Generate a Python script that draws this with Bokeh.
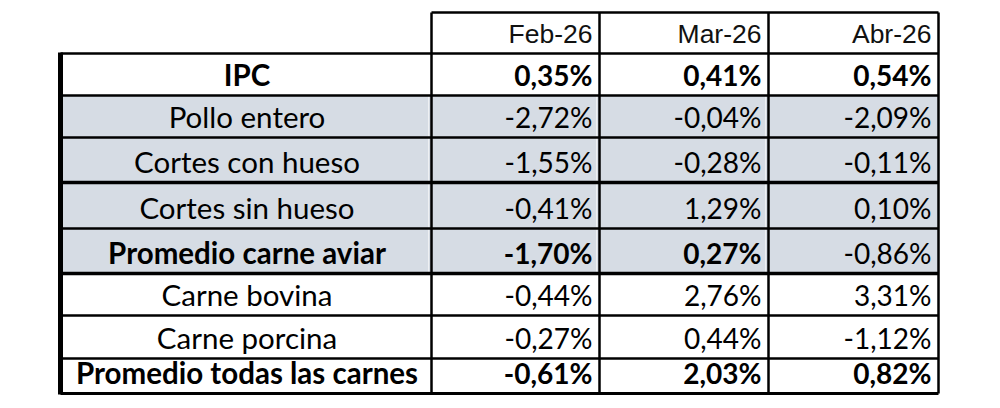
from bokeh.plotting import figure
from bokeh.models import ColumnDataSource, Range1d
from bokeh.embed import file_html
from bokeh.resources import INLINE
from bokeh.core.properties import value

# ---------------- data ----------------
categories = ["IPC", "Pollo entero", "Cortes con hueso", "Cortes sin hueso",
              "Promedio carne aviar", "Carne bovina", "Carne porcina",
              "Promedio todas las carnes"]
months = ["Feb-26", "Mar-26", "Abr-26"]
feb = [0.35, -2.72, -1.55, -0.41, -1.70, -0.44, -0.27, -0.61]
mar = [0.41, -0.04, -0.28, 1.29, 0.27, 2.76, 0.44, 2.03]
abr = [0.54, -2.09, -0.11, 0.10, -0.86, 3.31, -1.12, 0.82]

# ---------------- styles / layout ----------------
shaded_rows = [False, True, True, True, True, False, False, False]
bold_label = [True, False, False, False, True, False, False, True]
bold_values = [
    [True, True, True],
    [False, False, False],
    [False, False, False],
    [False, False, False],
    [True, True, False],
    [False, False, False],
    [False, False, False],
    [True, True, True],
]
col_edges = [60, 431, 599, 768, 938]
row_edges = [12, 53, 95, 137, 182, 228, 273, 315, 358, 393]
thick_rows = [182, 273]
SHADE = "#d6dce4"
W, H = 1000, 408

p = figure(width=W, height=H, output_backend="svg", toolbar_location=None,
           x_range=Range1d(0, W), y_range=Range1d(H, 0),
           min_border=0, outline_line_color=None)
p.axis.visible = False
p.grid.visible = False
p.background_fill_color = "white"
p.border_fill_color = "white"

# shading
sl, sr, st, sb = [], [], [], []
for i, sh in enumerate(shaded_rows):
    if sh:
        sl.append(col_edges[0]); sr.append(col_edges[-1])
        st.append(row_edges[i + 1]); sb.append(row_edges[i + 2])
p.quad(left=sl, right=sr, top=st, bottom=sb, fill_color=SHADE, line_color=None)

# light inner gridlines (Excel style)
gx0, gx1, gy0, gy1 = [], [], [], []
for i, sh in enumerate(shaded_rows):
    if sh:
        for c in col_edges[1:-1]:
            gx0.append(c - 3); gx1.append(c - 3)
            gy0.append(row_edges[i + 1]); gy1.append(row_edges[i + 2])
p.segment(x0=gx0, y0=gy0, x1=gx1, y1=gy1, line_color="#eef0f3", line_width=1)

# borders
x0, y0, x1, y1, lw = [], [], [], [], []
x0.append(col_edges[1]); x1.append(col_edges[-1]); y0.append(row_edges[0]); y1.append(row_edges[0]); lw.append(2.5)
for r in row_edges[1:]:
    x0.append(col_edges[0]); x1.append(col_edges[-1]); y0.append(r); y1.append(r)
    lw.append(3.5 if r in thick_rows else (3 if r == row_edges[-1] else 2.5))
x0.append(col_edges[0]); x1.append(col_edges[0]); y0.append(row_edges[1] - 1); y1.append(row_edges[-1] + 1); lw.append(5)
for c in col_edges[1:]:
    x0.append(c); x1.append(c); y0.append(row_edges[0]); y1.append(row_edges[-1]); lw.append(2.5)
p.segment(x0="x0", y0="y0", x1="x1", y1="y1", line_width="lw", line_color="black",
          source=ColumnDataSource(dict(x0=x0, y0=y0, x1=x1, y1=y1, lw=lw)))

BASE_OFF = 21
PAD = 7

# header texts
hx = [col_edges[j + 2] - PAD for j in range(3)]
hy = [row_edges[1] - BASE_OFF + 1] * 3
p.text(x=hx, y=hy, text=months, text_font=value("Liberation Sans"),
       text_font_size="26.5px", text_align="right", text_baseline="alphabetic",
       text_color="#111111")

# labels
lx = [(col_edges[0] + col_edges[1]) / 2 + 1] * len(categories)
ly = [row_edges[i + 2] - BASE_OFF for i in range(len(categories))]
lst = ["bold" if b else "normal" for b in bold_label]
p.text(x="x", y="y", text="t", text_font_style="s",
       source=ColumnDataSource(dict(x=lx, y=ly, t=categories, s=lst)),
       text_font=value("Lato"), text_font_size="29.5px", text_align="center",
       text_baseline="alphabetic", text_color="black")

# values
def fmt(v):
    return f"{v:.2f}%".replace(".", ",")

vx, vy, vt, vs = [], [], [], []
for i in range(len(categories)):
    for j, series in enumerate([feb, mar, abr]):
        vx.append(col_edges[j + 2] - PAD)
        vy.append(row_edges[i + 2] - BASE_OFF)
        vt.append(fmt(series[i]))
        vs.append("bold" if bold_values[i][j] else "normal")
p.text(x="x", y="y", text="t", text_font_style="s",
       source=ColumnDataSource(dict(x=vx, y=vy, t=vt, s=vs)),
       text_font=value("Lato"), text_font_size="28px", text_align="right",
       text_baseline="alphabetic", text_color="black")

open("out.html", "w").write(file_html(p, INLINE))
